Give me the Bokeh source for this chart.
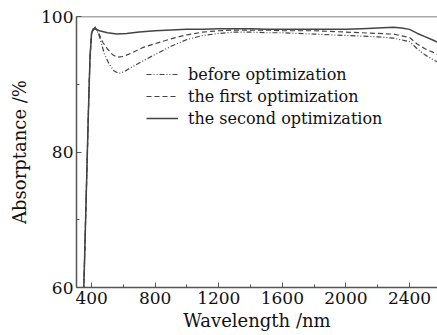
from bokeh.plotting import figure
from bokeh.models import Range1d, FixedTicker, Legend, LegendItem, Span
from bokeh.embed import file_html
from bokeh.resources import INLINE

# Data
wl_before = [340, 350, 360, 370, 380, 390, 400, 425, 450, 480, 510, 540, 570, 600, 650, 720, 800, 900,
             1000, 1100, 1200, 1300, 1400, 1500, 1600, 1700, 1800, 1900, 2000, 2100, 2200, 2300,
             2400, 2450, 2500, 2550, 2576]
ab_before = [50, 59, 68, 77, 86, 94, 97.5, 98.5, 97.0, 94.5, 93.0, 92.0, 91.6, 91.8, 92.5, 93.4, 94.4, 95.6,
             96.6, 97.2, 97.5, 97.7, 97.7, 97.6, 97.6, 97.5, 97.4, 97.3, 97.2, 97.1, 97.0, 96.8,
             96.3, 95.2, 94.3, 93.6, 93.3]

wl_first = [340, 350, 360, 370, 380, 390, 400, 420, 440, 470, 500, 530, 560, 600, 650, 720, 800, 900,
            1000, 1100, 1200, 1300, 1400, 1500, 1600, 1700, 1800, 1900, 2000, 2100, 2200, 2300,
            2400, 2450, 2500, 2550, 2576]
ab_first = [50, 59, 68, 77, 86, 94, 97.6, 98.4, 97.8, 96.2, 95.2, 94.4, 94.0, 94.1, 94.6, 95.4, 96.0, 96.7,
            97.3, 97.7, 97.9, 98.0, 98.0, 98.0, 97.9, 97.9, 97.9, 97.8, 97.7, 97.6, 97.5, 97.4,
            96.9, 95.9, 95.2, 94.7, 94.4]

wl_second = [340, 350, 360, 370, 380, 390, 400, 410, 420, 450, 500, 560, 620, 700, 800, 900,
             1000, 1100, 1200, 1300, 1400, 1500, 1600, 1700, 1800, 1900, 2000, 2100, 2200, 2300,
             2350, 2400, 2450, 2500, 2550, 2576]
ab_second = [50, 59, 68, 77, 86, 94, 97.6, 98.2, 98.2, 97.9, 97.6, 97.4, 97.5, 97.7, 97.9, 98.0,
             98.1, 98.1, 98.2, 98.2, 98.2, 98.1, 98.1, 98.1, 98.1, 98.1, 98.1, 98.2, 98.3, 98.4,
             98.3, 98.1, 97.5, 97.0, 96.5, 96.2]

x_ticks = [400, 800, 1200, 1600, 2000, 2400]
x_minor = [600, 1000, 1400, 1800, 2200]
y_ticks = [60, 80, 100]
y_minor = [70, 90]
labels = ["before optimization", "the first optimization", "the second optimization"]
x_title = "Wavelength /nm"
y_title = "Absorptance /%"

FONT = "DejaVu Serif"
INK = "#444444"

p = figure(width=437, height=335, output_backend="svg", toolbar_location=None,
           x_range=Range1d(305, 2576), y_range=Range1d(60, 100),
           min_border_left=76, min_border_right=0, min_border_top=16, min_border_bottom=48)
p.outline_line_color = None
p.xgrid.visible = False
p.ygrid.visible = False
p.background_fill_color = "white"
p.border_fill_color = "white"

r1 = p.line(wl_before, ab_before, line_color=INK, line_width=1.2, line_dash="5 2 1 2 1 2")
r2 = p.line(wl_first, ab_first, line_color=INK, line_width=1.2, line_dash="5 3")
r3 = p.line(wl_second, ab_second, line_color=INK, line_width=1.5)

p.add_layout(Span(location=100, dimension="width", line_color="#555555", line_width=1.5))

for ax in (p.xaxis[0], p.yaxis[0]):
    ax.axis_line_color = "#555555"
    ax.axis_line_width = 1.5
    ax.major_tick_line_color = "#555555"
    ax.minor_tick_line_color = "#555555"
    ax.major_tick_in = 5
    ax.major_tick_out = 0
    ax.minor_tick_in = 3
    ax.minor_tick_out = 0
    ax.major_label_text_font = FONT
    ax.major_label_text_font_size = "17px"
    ax.major_label_text_color = "#111111"
    ax.axis_label_text_font = FONT
    ax.axis_label_text_font_size = "18px"
    ax.axis_label_text_font_style = "normal"
    ax.axis_label_text_color = "#111111"

p.xaxis[0].ticker = FixedTicker(ticks=x_ticks, minor_ticks=x_minor)
p.yaxis[0].ticker = FixedTicker(ticks=y_ticks, minor_ticks=y_minor)
p.xaxis[0].major_label_standoff = 4
p.yaxis[0].major_label_standoff = 3
p.yaxis[0].axis_label = y_title
p.yaxis[0].axis_label_standoff = 8
p.xaxis[0].axis_label = x_title
p.xaxis[0].axis_label_standoff = 3

legend = Legend(items=[LegendItem(label=labels[0], renderers=[r1]),
                       LegendItem(label=labels[1], renderers=[r2]),
                       LegendItem(label=labels[2], renderers=[r3])],
                location=(70, 158), border_line_color=None, background_fill_alpha=0,
                label_text_font=FONT, label_text_font_size="16px", label_text_color="#111111",
                label_height=22, glyph_height=22, glyph_width=32, spacing=0, padding=0,
                margin=0, label_standoff=10)
p.add_layout(legend)

open("out.html", "w").write(file_html(p, INLINE))
